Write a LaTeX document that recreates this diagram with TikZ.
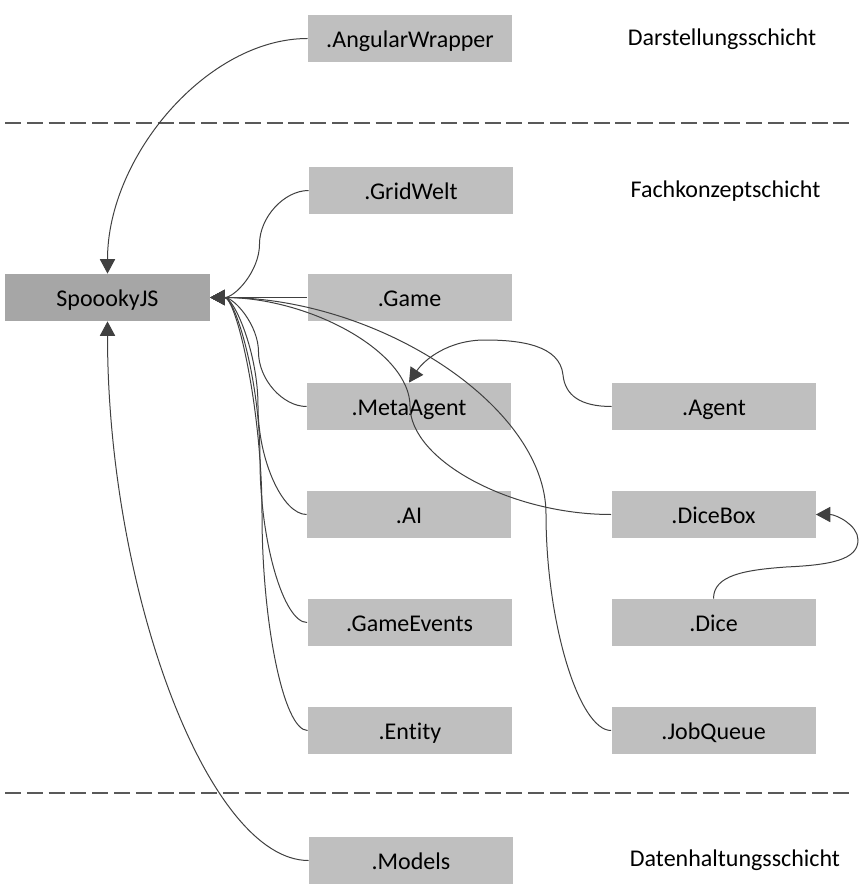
\documentclass[tikz,border=0pt]{standalone}
\usepackage{fontspec}
\setmainfont{Carlito}[Ligatures=CommonOff]
\usetikzlibrary{arrows.meta}
\definecolor{boxgray}{HTML}{BFBFBF}
\definecolor{mainbox}{HTML}{A6A6A6}
\definecolor{linegray}{HTML}{404040}
\definecolor{dashgray}{HTML}{595959}
\tikzset{
  modbox/.style={fill=boxgray, minimum width=102pt, minimum height=23.5pt, inner sep=0pt,
    text height=9.2pt, text depth=0pt, font=\fontsize{12pt}{14pt}\selectfont},
  corebox/.style={modbox, fill=mainbox, minimum width=102.5pt},
  layerlabel/.style={inner sep=0pt, anchor=base, font=\fontsize{12pt}{14pt}\selectfont},
  conn/.style={draw=linegray, line width=0.5pt},
  arr/.style={conn, -{Triangle[length=7.2pt,width=7.6pt]}, arrows={[fill=linegray]}},
  layerline/.style={draw=dashgray, line width=1pt, dash pattern=on 8pt off 2.9pt}
}
\begin{document}
\begin{tikzpicture}[x=0.5pt, y=-0.5pt]
\useasboundingbox (0,0) rectangle (865,893);
% layer separators
\coordinate (d1a) at (5,123);
\coordinate (d1b) at (849,123);
\coordinate (d2a) at (5,793);
\coordinate (d2b) at (849,793);
\draw[layerline] (d1a) -- (d1b);
\draw[layerline] (d2a) -- (d2b);
% boxes
\node[modbox] (aw) at (410,38.5) {.AngularWrapper};
\node[modbox] (gw) at (411,190.5) {.GridWelt};
\node[corebox] (sp) at (107.5,297.5) {SpoookyJS};
\node[modbox] (game) at (409.5,297.5) {.Game};
\node[modbox] (meta) at (409,406.5) {.MetaAgent};
\node[modbox] (agent) at (714,406.5) {.Agent};
\node[modbox] (ai) at (409,514.5) {.AI};
\node[modbox] (dicebox) at (713.5,514.5) {.DiceBox};
\node[modbox] (gev) at (409.5,622.5) {.GameEvents};
\node[modbox] (dice) at (713.5,622.5) {.Dice};
\node[modbox] (entity) at (410,730.5) {.Entity};
\node[modbox] (jobq) at (713.5,730.5) {.JobQueue};
\node[modbox] (models) at (411,860.5) {.Models};
% layer labels
\node[layerlabel] (l1) at (722,46) {Darstellungsschicht};
\node[layerlabel] (l2) at (725.5,198) {Fachkonzeptschicht};
\node[layerlabel] (l3) at (735,866.7) {Datenhaltungsschicht};
% connectors
\draw[arr] (aw.west) .. controls (207.5,38.5) and (107.5,156) .. (sp.north);
\draw[arr] (models.west) .. controls (208,860.5) and (107.5,590.5) .. (sp.south);
\draw[arr] (gw.west) .. controls (284,190.5) and (259.5,217.5) .. (259.5,244)
  .. controls (259.5,271) and (235,297.5) .. (sp.east);
\draw[arr] (game.west) -- (sp.east);
\draw[arr] (meta.west) .. controls (282.75,406.5) and (258.5,379.5) .. (258.5,352)
  .. controls (258.5,325) and (234.25,297.5) .. (sp.east);
\draw[arr] (ai.west) .. controls (282.75,514.5) and (258,460.5) .. (258,406)
  .. controls (258,352) and (234,297.5) .. (sp.east);
\draw[arr] (gev.west) .. controls (283.5,622.5) and (260,541) .. (260,460)
  .. controls (260,379) and (235,297.5) .. (sp.east);
\draw[arr] (entity.west) .. controls (283.5,730.5) and (262,622.5) .. (262,514)
  .. controls (262,406) and (236,297.5) .. (sp.east);
\draw[arr] (dicebox.west) .. controls (511,514.5) and (410,460.5) .. (410,406)
  .. controls (410,352) and (310,297.5) .. (sp.east);
\draw[arr] (jobq.west) .. controls (579,730.5) and (546,622.5) .. (546,514)
  .. controls (546,406) and (378,297.5) .. (sp.east);
\draw[arr] (agent.west) .. controls (580,406.5) and (565,395) .. (563,375)
  .. controls (560,345) and (520,340) .. (485,340)
  .. controls (448,340) and (424,360) .. (meta.north);
\draw[arr] (dice.north) .. controls (713.5,575) and (745,570) .. (786,567)
  .. controls (830,565) and (858,560) .. (858,540)
  .. controls (858,525) and (836,514.5) .. (dicebox.east);
\end{tikzpicture}
\end{document}
